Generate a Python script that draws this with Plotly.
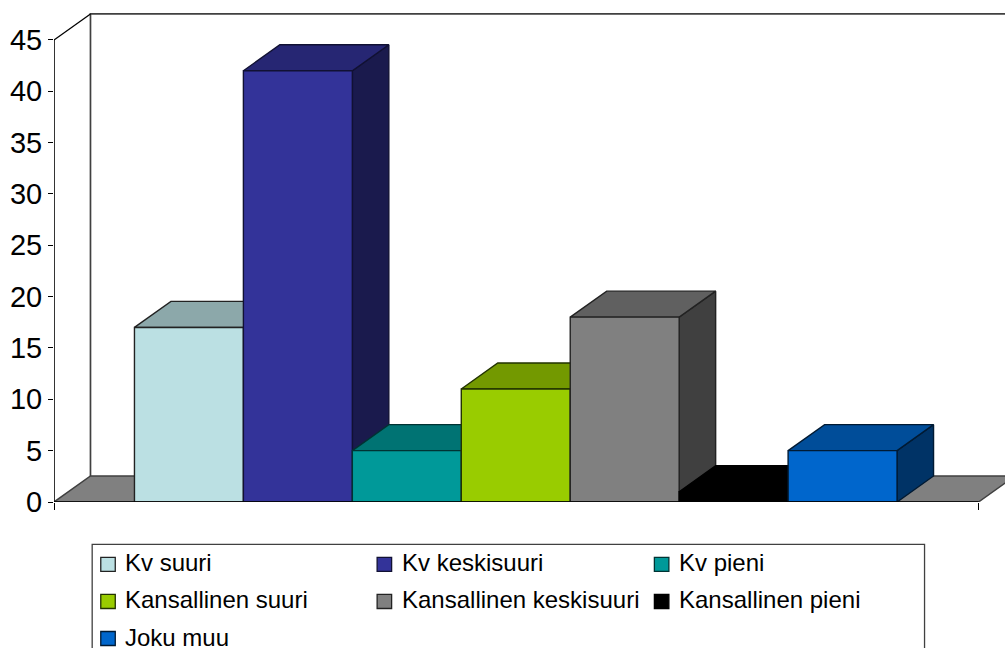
import plotly.graph_objects as go

# Data
categories = ["Kv suuri", "Kv keskisuuri", "Kv pieni", "Kansallinen suuri",
              "Kansallinen keskisuuri", "Kansallinen pieni", "Joku muu"]
values = [17, 42, 5, 11, 18, 1, 5]
front_colors = ["#BBE0E3", "#333399", "#009999", "#99CC00", "#808080", "#000000", "#0066CC"]
top_colors = ["#8CA8AA", "#262673", "#007373", "#739900", "#606060", "#000000", "#004D99"]
side_colors = ["#5E7072", "#1A1A4D", "#004D4D", "#4D6600", "#404040", "#000000", "#003366"]
edge_colors = ["#222222", "#111133", "#003333", "#223300", "#222222", "#000000", "#001A33"]
y_ticks = [0, 5, 10, 15, 20, 25, 30, 35, 40, 45]

# Pixel layout of the frame
W, H = 1005, 648
L, BOT = 53.5, 501.6
X0, BAR_W = 134.0, 109.0
PX_PER_UNIT = 10.26
xmin = (L - X0) / BAR_W
xmax = (W - X0) / BAR_W
xright = (978.5 - X0) / BAR_W
ymax = BOT / PX_PER_UNIT
DX = 36.5 / BAR_W
DY = 26.0 / PX_PER_UNIT
YTOP = 45

WALL = "#404040"
fig = go.Figure()


def poly(xs, ys, fill, line, width=1.4, name=None):
    fig.add_trace(go.Scatter(
        x=xs, y=ys, mode="lines", fill="toself", fillcolor=fill,
        line=dict(color=line, width=width), cliponaxis=False,
        hoverinfo="text" if name else "skip", text=name, showlegend=False))


def path(xs, ys, color, width=1.3):
    fig.add_trace(go.Scatter(x=xs, y=ys, mode="lines", line=dict(color=color, width=width),
                             cliponaxis=False, hoverinfo="skip", showlegend=False))


# Back wall and floor
path([xmin + DX, xmin + DX, xmax + 1], [DY, YTOP + DY, YTOP + DY], WALL, 1.7)
path([xmin, xmin + DX], [YTOP, YTOP + DY], "#000000", 1.3)
poly([xmin, xmin + DX, xright + DX, xright, xmin], [0, DY, DY, 0, 0], "#808080", WALL, 1.5)

# Bars, left to right so each one covers the side of the previous one
for i, (cat, v) in enumerate(zip(categories, values)):
    a, b = i, i + 1
    label = f"{cat}: {v}"
    e = edge_colors[i]
    poly([b, b + DX, b + DX, b, b], [0, DY, v + DY, v, 0], side_colors[i], e, name=label)
    poly([a, a + DX, b + DX, b, a], [v, v + DY, v + DY, v, v], top_colors[i], e, name=label)
    poly([a, b, b, a, a], [0, 0, v, v, 0], front_colors[i], e, name=label)

# Axis lines
path([xmin, xmin], [0, YTOP], "#000000", 1.6)
path([xmin, xright], [0, 0], "#000000", 1.6)


# Legend (sits on a paper-coordinate frame below the plot)
def px(x):
    return (x - L) / (W - L)


def py(y):
    return 1 - y / BOT


shapes = [dict(type="rect", xref="paper", yref="paper",
               x0=px(91.7), x1=px(924.5), y0=py(544.0), y1=py(660),
               line=dict(color="#404040", width=1.3), fillcolor="white", layer="below")]
annotations = []
col_x = [100.3, 376.8, 654.2]
row_y = [564, 601, 638]
for i, cat in enumerate(categories):
    c, r = i % 3, i // 3
    x, y = col_x[c], row_y[r]
    shapes.append(dict(type="rect", xref="paper", yref="paper",
                       x0=px(x), x1=px(x + 14.5), y0=py(y - 7), y1=py(y + 7),
                       line=dict(color=edge_colors[i], width=1.3), fillcolor=front_colors[i]))
    annotations.append(dict(text=cat, xref="paper", yref="paper", x=px(x + 22.5), y=py(y - 1.5),
                            xanchor="left", yanchor="middle", showarrow=False,
                            font=dict(family="Liberation Sans", size=24, color="#000000")))

fig.update_layout(
    width=W, height=H, margin=dict(l=L, r=0, t=0, b=H - BOT, pad=0),
    paper_bgcolor="white", plot_bgcolor="white", showlegend=False,
    shapes=shapes, annotations=annotations,
    font=dict(family="Liberation Sans", color="#000000"),
    xaxis=dict(range=[xmin, xmax], showgrid=False, zeroline=False, showline=False,
               tickmode="array", tickvals=[xmin, xright], ticktext=["", ""],
               ticks="outside", ticklen=7, tickwidth=1.3, tickcolor="#000000", fixedrange=True),
    yaxis=dict(range=[0, ymax], showgrid=False, zeroline=False, showline=False,
               tickmode="array", tickvals=y_ticks, ticks="outside", ticklen=5, tickwidth=1.3,
               tickcolor="#000000", tickfont=dict(size=29, family="Liberation Sans", color="#000000"),
               fixedrange=True),
)
fig.write_html("out.html", config={"displayModeBar": False},
               post_script="document.body.style.margin='0';")
